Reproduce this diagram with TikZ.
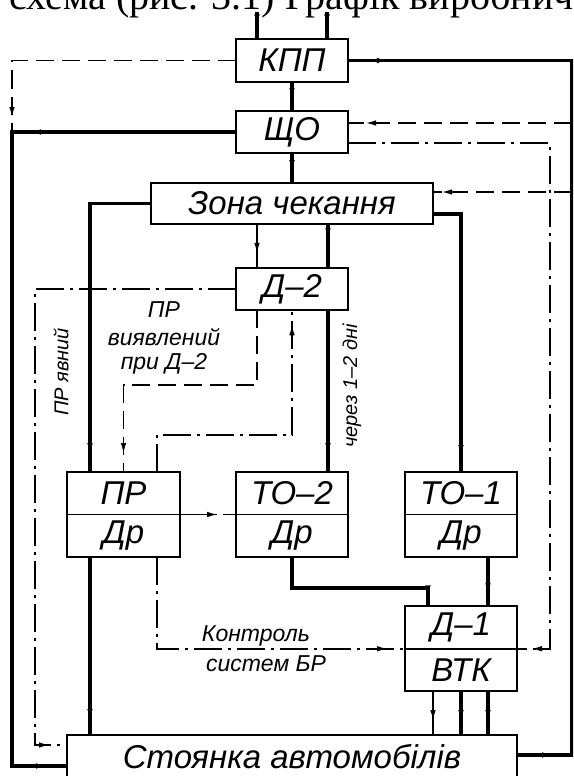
\documentclass[tikz,border=0pt]{standalone}
\usepackage{fontspec}
\newfontfamily\gostfont{Liberation Sans}
\newfontfamily\serifcyr{Liberation Serif}
\usetikzlibrary{positioning,arrows.meta,decorations.markings}
\tikzset{
  unit/.style={draw=black, line width=1.6pt, inner sep=0pt, outer sep=0pt,
    minimum width=112pt, font=\gostfont\itshape\fontsize{33}{35}\selectfont},
  halfbox/.style={unit, minimum height=42.5pt},
  thicklink/.style={line width=3.2pt},
  thinlink/.style={line width=1.5pt},
  dashlink/.style={line width=1.8pt, dash pattern=on 18pt off 8pt},
  dotlink/.style={line width=1.6pt, dash pattern=on 28pt off 6pt on 3pt off 6pt},
  tip/.style={postaction={decorate, decoration={markings,
    mark=at position #1 with {\arrow{Latex[length=11pt,width=5.5pt]}}}}},
  rtip/.style={postaction={decorate, decoration={markings,
    mark=at position #1 with {\arrowreversed{Latex[length=11pt,width=5.5pt]}}}}},
  tag/.style={font=\gostfont\itshape\fontsize{20}{22}\selectfont, inner sep=0pt},
  note/.style={font=\gostfont\itshape\fontsize{23}{24}\selectfont, inner sep=0pt, align=center},
}

\begin{document}
\begin{tikzpicture}[x=1pt,y=-1pt]
\useasboundingbox (0,0) rectangle (573,776);
\clip (0,0) rectangle (573,776);
% cut line of the page text above
\node[anchor=base west, inner sep=0pt, font=\serifcyr\fontsize{40}{42}\selectfont] (caption) at (9,10) {схема (рис. 3.1) Графік виробничого};
% boxes
\node[unit, minimum height=43pt] (kpp) at (292,60.5) {КПП};
\node[halfbox] (shcho) at (292,132) {ЩО};
\node[unit, minimum width=282pt, minimum height=41pt] (zona) at (292,203.5) {Зона чекання};
\node[halfbox] (d2) at (292,289) {Д–2};
\node[halfbox, minimum width=113pt] (pr) at (123.5,493.25) {ПР};
\node[halfbox, minimum width=113pt, below=0pt of pr] (prd) {Др};
\node[halfbox] (to2) at (292,493.25) {ТО–2};
\node[halfbox, below=0pt of to2] (to2d) {Др};
\node[halfbox] (to1) at (461,493.25) {ТО–1};
\node[halfbox, below=0pt of to1] (to1d) {Др};
\node[halfbox] (d1) at (461,627.5) {Д–1};
\node[halfbox, below=0pt of d1] (d1d) {ВТК};
\node[unit, minimum width=450pt, minimum height=43pt] (stoy) at (292,756.5) {Стоянка автомобілів};
% rails
\coordinate (lrail) at (12,0);
\coordinate (prrail) at (35,0);
\coordinate (vrail) at (550,0);
\coordinate (rail) at (572,0);
\coordinate (inA) at (257,12);
\coordinate (inB) at (327,12);
% entry
\draw[thicklink, tip=0.5] (inA) -- (inA |- kpp.north);
\draw[thicklink, tip=0.5] (inB) -- (inB |- kpp.north);
\draw[thicklink, tip=0.6] (kpp) -- (shcho);
\draw[thicklink, tip=0.6] (shcho) -- (zona);
% left side
\draw[dashlink, tip=-14pt] (kpp.west) -| (lrail |- shcho.west);
\draw[thicklink, tip=206pt, tip=-20pt] (shcho.west) -| (lrail |- 0,766) -- (stoy.west |- 0,766);
\draw[dotlink, tip=-17pt] (d2.west) -| (prrail |- 0,745) -- (stoy.west |- 0,745);
% right side
\draw[thicklink, tip=36pt, tip=-20pt] (stoy.east |- 0,755) -| (rail |- kpp.east) -- (kpp.east);
\draw[dashlink, tip=-17pt] (rail |- 0,123) -- (shcho.east |- 0,123);
\draw[dotlink, tip=-14pt] (shcho.east |- 0,143) -| (vrail |- d1.south) -- (d1.south east);
\draw[dashlink, tip=-8pt] (rail |- 0,192) -- (zona.east |- 0,192);
\draw[thicklink, tip=-16pt] (zona.east |- 0,214) -| (to1.north);
% from the waiting zone
\draw[thicklink, tip=-18pt] (zona.west) -| ([xshift=-33.5pt]pr.north);
\draw[thinlink, tip=-14pt] ([xshift=-35pt]zona.south) -- ([xshift=-35pt]d2.north);
\draw[thicklink, tip=0.35] ([xshift=36pt]zona.south) -- ([xshift=36pt]d2.north);
\draw[thicklink, tip=-18pt] ([xshift=36pt]d2.south) -- ([xshift=36pt]to2.north);
% around D-2 and repair
\draw[dashlink, tip=-18pt] ([xshift=-35pt]d2.south) |- (pr.north |- 0,385) -- (pr.north);
\draw[dotlink, tip=-14pt] ([xshift=33.5pt]pr.north) |- (d2.south |- 0,435) -- (d2.south);
\draw[dotlink, tip=-18pt] (pr.south east) -- (to2.south west);
\draw[thicklink, tip=-15pt] ([xshift=-33.5pt]prd.south) -- ([xshift=-33.5pt]prd.south |- stoy.north);
\draw[dotlink, tip=-17pt] ([xshift=33.5pt]prd.south) |- (d1.south west);
% to D-1 and parking
\draw[thicklink, tip=-10pt] (to2d.south) |- ([xshift=-33pt]d1.north |- 0,588) -- ([xshift=-33pt]d1.north);
\draw[thicklink, tip=-12pt] ([xshift=27pt]to1d.south) -- ([xshift=27pt]d1.north);
\draw[thinlink, tip=-14pt] ([xshift=-28pt]d1d.south) -- ([xshift=-28pt]d1d.south |- stoy.north);
\draw[thicklink, tip=-14pt] (d1d.south) -- (d1d.south |- stoy.north);
\draw[thicklink, tip=-14pt] ([xshift=27pt]d1d.south) -- ([xshift=27pt]d1d.south |- stoy.north);
% labels
\node[tag, rotate=90] (prexp) at (61,372) {ПР явний};
\node[tag, rotate=90] (days) at (352,386) {через 1–2 дні};
\node[note] (prfound) at (164,338) {ПР\\[4pt]виявлений\\при Д–2};
\node[note] (ctrl) at (256,636) {Контроль};
\node[note] (ctrlb) at (266,664) {систем БР};
\end{tikzpicture}
\end{document}
